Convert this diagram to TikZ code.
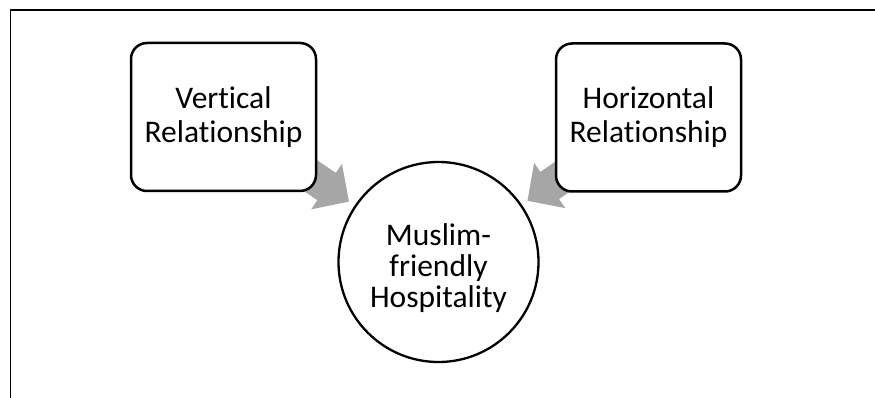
\documentclass[tikz,border=0pt]{standalone}
\usepackage{fontspec}
\setmainfont{Carlito}[Ligatures=CommonOff]
\usetikzlibrary{calc,backgrounds}
\definecolor{arrowgray}{RGB}{166,166,166}
\newcommand\arrowfromto[3]{%
  \coordinate (#3tip) at ($(#2)!108pt!(#1)$);
  \coordinate (#3base) at ($(#3tip)!27pt!(#1)$);
  \coordinate (#3back) at ($(#3tip)!90pt!(#1)$);
  \fill[blockarrow] (#3tip)
    -- ($(#3base)!27.5pt!90:(#3tip)$)
    -- ($(#3base)!16.5pt!90:(#3tip)$)
    -- ($(#3back)!16.5pt!90:(#3tip)$)
    -- ($(#3back)!16.5pt!-90:(#3tip)$)
    -- ($(#3base)!16.5pt!-90:(#3tip)$)
    -- ($(#3base)!27.5pt!-90:(#3tip)$)
    -- cycle;}
\begin{document}
\begin{tikzpicture}[x=1pt,y=1pt,
  frame/.style={draw=black, line width=1.8pt},
  rel/.style={draw, line width=2.5pt, rounded corners=16pt, fill=white,
    minimum width=185pt, minimum height=148pt, align=center,
    font=\fontsize{31.5}{34}\selectfont, inner sep=0pt},
  hub/.style={draw, circle, line width=2.3pt, fill=white, minimum size=200pt,
    align=center, font=\fontsize{31.5}{31}\selectfont, inner sep=0pt},
  blockarrow/.style={fill=arrowgray}]
\useasboundingbox (0,0) rectangle (875,-398);
% open frame
\coordinate (ftr) at (876,-10);
\coordinate (ftl) at (10.5,-10);
\coordinate (fbl) at (10.5,-399);
\draw[frame] (ftr) -- (ftl) -- (fbl);
% nodes
\node[rel] (lbox) at (223.5,-117) {Vertical\\Relationship};
\node[rel] (rbox) at (648.5,-117.5) {Horizontal\\Relationship};
\node[hub] (circ) at (438.5,-262) {\rule{0pt}{34pt}Muslim-\\friendly\\Hospitality};
% block arrows behind
\begin{scope}[on background layer]
  \arrowfromto{lbox}{circ}{la}
  \arrowfromto{rbox}{circ}{ra}
\end{scope}
\end{tikzpicture}
\end{document}
